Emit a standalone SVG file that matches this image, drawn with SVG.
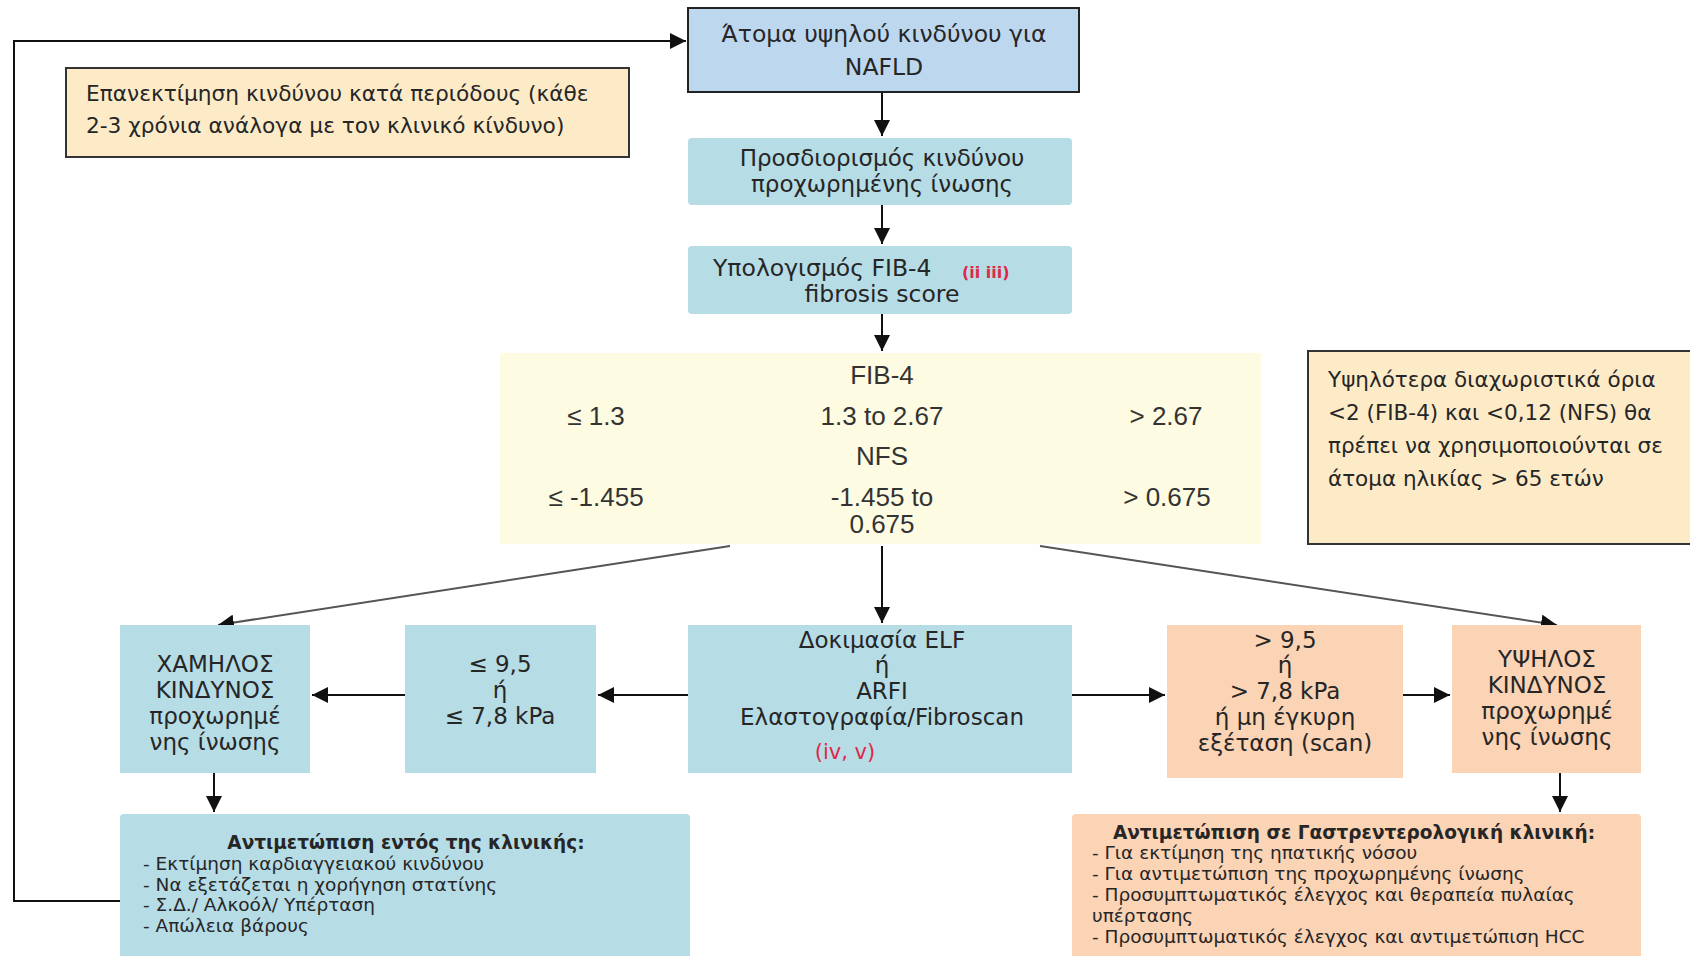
<svg xmlns="http://www.w3.org/2000/svg" width="1690" height="956" viewBox="0 0 1690 956">
  <style>
    .blue { fill: #b6dce6; }
    .peach { fill: #fbd3b5; }
    .note { fill: #fdebc8; stroke: #333; stroke-width: 2; }
    .t { font-family: "DejaVu Sans", "Liberation Sans", sans-serif; fill: #262626; }
    .a { font-family: "Liberation Sans", Arial, sans-serif; fill: #333; font-size: 26px; }
    .c { text-anchor: middle; }
    .red { fill: #e0284a; }
    .ln { stroke: #111; stroke-width: 2; fill: none; }
    .dg { stroke: #555; stroke-width: 2; fill: none; }
    .box { font-size: 23px; }
    .list { font-size: 18.5px; }
  </style>
  <defs>
    <marker id="ah" viewBox="0 0 10 10" refX="10" refY="5" markerWidth="8" markerHeight="8" markerUnits="strokeWidth" orient="auto">
      <path d="M0,0 L10,5 L0,10 z" fill="#111"/>
    </marker>
  </defs>
  <rect width="1690" height="956" fill="#ffffff"/>

  <!-- connectors -->
  <g id="connectors">
    <polyline class="ln" points="120,901 14,901 14,41 686,41" marker-end="url(#ah)"/>
    <line class="ln" x1="882" y1="92" x2="882" y2="136" marker-end="url(#ah)"/>
    <line class="ln" x1="882" y1="205" x2="882" y2="244" marker-end="url(#ah)"/>
    <line class="ln" x1="882" y1="314" x2="882" y2="351" marker-end="url(#ah)"/>
    <line class="dg" x1="730" y1="546" x2="218" y2="625" marker-end="url(#ah)"/>
    <line class="ln" x1="882" y1="546" x2="882" y2="623" marker-end="url(#ah)"/>
    <line class="dg" x1="1040" y1="546" x2="1557" y2="625" marker-end="url(#ah)"/>
    <line class="ln" x1="688" y1="695" x2="598" y2="695" marker-end="url(#ah)"/>
    <line class="ln" x1="405" y1="695" x2="312" y2="695" marker-end="url(#ah)"/>
    <line class="ln" x1="1072" y1="695" x2="1165" y2="695" marker-end="url(#ah)"/>
    <line class="ln" x1="1403" y1="695" x2="1450" y2="695" marker-end="url(#ah)"/>
    <line class="ln" x1="214" y1="773" x2="214" y2="812" marker-end="url(#ah)"/>
    <line class="ln" x1="1560" y1="773" x2="1560" y2="812" marker-end="url(#ah)"/>
  </g>

  <g id="high-risk-nafld">
    <rect x="688" y="8" width="391" height="84" fill="#bdd7ee" stroke="#222" stroke-width="2"/>
    <text class="t c" x="884" y="42" font-size="23.5">Άτομα υψηλού κινδύνου για</text>
    <text class="t c" x="884" y="75" font-size="23.5">NAFLD</text>
  </g>

  <g id="reassessment-note">
    <rect class="note" x="66" y="68" width="563" height="89"/>
    <text class="t" x="86" y="101" font-size="21.7">Επανεκτίμηση κινδύνου κατά περιόδους (κάθε</text>
    <text class="t" x="86" y="133" font-size="21.7">2-3 χρόνια ανάλογα με τον κλινικό κίνδυνο)</text>
  </g>

  <g id="fibrosis-risk">
    <rect class="blue" x="688" y="138" width="384" height="67" rx="4"/>
    <text class="t c box" x="882" y="166">Προσδιορισμός κινδύνου</text>
    <text class="t c box" x="882" y="192">προχωρημένης ίνωσης</text>
  </g>

  <g id="fib4-calc">
    <rect class="blue" x="688" y="246" width="384" height="68" rx="4"/>
    <text class="t" x="713" y="276" font-size="23.5">Υπολογισμός FIB-4</text>
    <text class="t red" x="962" y="278" font-size="16" font-weight="bold">(ii  iii)</text>
    <text class="t c" x="882" y="302" font-size="23.5">fibrosis score</text>
  </g>

  <g id="thresholds">
    <rect x="500" y="353" width="761" height="191" fill="#fdfbe1"/>
    <text class="a c" x="882" y="384">FIB-4</text>
    <text class="a c" x="596" y="425">≤ 1.3</text>
    <text class="a c" x="882" y="425">1.3 to 2.67</text>
    <text class="a c" x="1166" y="425">&gt; 2.67</text>
    <text class="a c" x="882" y="465">NFS</text>
    <text class="a c" x="596" y="506">≤ -1.455</text>
    <text class="a c" x="882" y="506">-1.455 to</text>
    <text class="a c" x="882" y="533">0.675</text>
    <text class="a c" x="1167" y="506">&gt; 0.675</text>
  </g>

  <g id="age-note">
    <rect class="note" x="1308" y="351" width="390" height="193"/>
    <text class="t" x="1328" y="387" font-size="21.5">Υψηλότερα διαχωριστικά όρια</text>
    <text class="t" x="1328" y="420" font-size="21.5">&lt;2 (FIB-4) και &lt;0,12 (NFS) θα</text>
    <text class="t" x="1328" y="453" font-size="21.5">πρέπει να χρησιμοποιούνται σε</text>
    <text class="t" x="1328" y="486" font-size="21.5">άτομα ηλικίας &gt; 65 ετών</text>
  </g>

  <g id="low-risk">
    <rect class="blue" x="120" y="625" width="190" height="148"/>
    <text class="t c box" x="215" y="672">ΧΑΜΗΛΟΣ</text>
    <text class="t c box" x="215" y="698">ΚΙΝΔΥΝΟΣ</text>
    <text class="t c box" x="215" y="724">προχωρημέ</text>
    <text class="t c box" x="215" y="750">νης ίνωσης</text>
  </g>

  <g id="low-values">
    <rect class="blue" x="405" y="625" width="191" height="148"/>
    <text class="t c box" x="500" y="672">≤ 9,5</text>
    <text class="t c box" x="500" y="698">ή</text>
    <text class="t c box" x="500" y="724">≤ 7,8 kPa</text>
  </g>

  <g id="elf-test">
    <rect class="blue" x="688" y="625" width="384" height="148"/>
    <text class="t c box" x="882" y="648">Δοκιμασία ELF</text>
    <text class="t c box" x="882" y="673">ή</text>
    <text class="t c box" x="882" y="699">ARFI</text>
    <text class="t c box" x="882" y="725">Ελαστογραφία/Fibroscan</text>
    <text class="t c red" x="845" y="759" font-size="21">(iv, v)</text>
  </g>

  <g id="high-values">
    <rect class="peach" x="1167" y="625" width="236" height="153"/>
    <text class="t c box" x="1285" y="648">&gt; 9,5</text>
    <text class="t c box" x="1285" y="673">ή</text>
    <text class="t c box" x="1285" y="699">&gt; 7,8 kPa</text>
    <text class="t c box" x="1285" y="725">ή μη έγκυρη</text>
    <text class="t c box" x="1285" y="751">εξέταση (scan)</text>
  </g>

  <g id="high-risk">
    <rect class="peach" x="1452" y="625" width="189" height="148"/>
    <text class="t c box" x="1547" y="667">ΥΨΗΛΟΣ</text>
    <text class="t c box" x="1547" y="693">ΚΙΝΔΥΝΟΣ</text>
    <text class="t c box" x="1547" y="719">προχωρημέ</text>
    <text class="t c box" x="1547" y="745">νης ίνωσης</text>
  </g>

  <g id="primary-care">
    <rect class="blue" x="120" y="814" width="570" height="150" rx="4"/>
    <text class="t c list" x="406" y="849" font-weight="bold">Αντιμετώπιση εντός της κλινικής:</text>
    <text class="t list" x="143" y="870">- Εκτίμηση καρδιαγγειακού κινδύνου</text>
    <text class="t list" x="143" y="891">- Να εξετάζεται η χορήγηση στατίνης</text>
    <text class="t list" x="143" y="911">- Σ.Δ./ Αλκοόλ/ Υπέρταση</text>
    <text class="t list" x="143" y="932">- Απώλεια βάρους</text>
  </g>

  <g id="hepatology-care">
    <rect class="peach" x="1072" y="814" width="569" height="150" rx="4"/>
    <text class="t c list" x="1354" y="839" font-weight="bold">Αντιμετώπιση σε Γαστρεντερολογική κλινική:</text>
    <text class="t list" x="1092" y="859">- Για εκτίμηση της ηπατικής νόσου</text>
    <text class="t list" x="1092" y="880">- Για αντιμετώπιση της προχωρημένης ίνωσης</text>
    <text class="t list" x="1092" y="901">- Προσυμπτωματικός έλεγχος και θεραπεία πυλαίας</text>
    <text class="t list" x="1092" y="922">υπέρτασης</text>
    <text class="t list" x="1092" y="943">- Προσυμπτωματικός έλεγχος και αντιμετώπιση HCC</text>
  </g>
</svg>
